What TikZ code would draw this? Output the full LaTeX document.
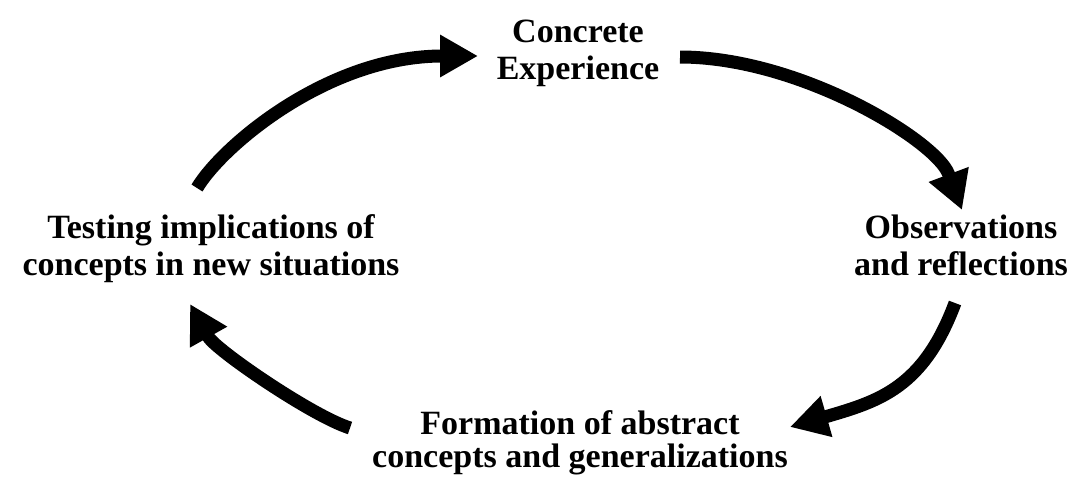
\documentclass[tikz,border=0pt]{standalone}
\usepackage{fontspec}
\setmainfont{Liberation Serif}
\usetikzlibrary{arrows.meta}
\begin{document}
\begin{tikzpicture}[x=1pt,y=-1pt,
  stage/.style={font=\bfseries\fontsize{34}{37}\selectfont, align=center, inner sep=0pt, anchor=base},
  cyclearrow/.style={line width=13pt, -{Triangle[length=38pt,width=40pt]}}]
\useasboundingbox (0,0) rectangle (1075,483);

% the four stages of the learning cycle (anchored at the baseline of the last line)
\node[stage] (ce) at (578,79) {Concrete\\Experience};
\node[stage] (or) at (961,275) {Observations\\and reflections};
\node[stage, font=\bfseries\fontsize{34}{33}\selectfont] (fa) at (580,467) {Formation of abstract\\concepts and generalizations};
\node[stage] (ti) at (211,275) {Testing implications of\\concepts in new situations};

% arrow start points, points where each head begins, and tips
\coordinate (ti-out) at (197,188);
\coordinate (ce-in)  at (478,56);
\coordinate (ce-out) at (680,57);
\coordinate (or-base) at (948.5,174);
\coordinate (or-in)  at (962,210);
\coordinate (or-out) at (955,303);
\coordinate (fa-base) at (826.5,416.5);
\coordinate (fa-in)  at (790,427);
\coordinate (fa-out) at (350,428);
\coordinate (ti-base) at (208.5,337);
\coordinate (ti-in)  at (190,304);

% curved arrows linking the stages
\draw[cyclearrow] (ti-out) .. controls (222,146) and (328,56) .. (ce-in);
\draw[cyclearrow] (ce-out) .. controls (800,57) and (936.3,141.1) .. (or-base) -- (or-in);
\draw[cyclearrow] (or-out) .. controls (923.5,387.6) and (879.3,401.1) .. (fa-base) -- (fa-in);
\draw[cyclearrow] (fa-out) .. controls (312,416) and (215.9,350) .. (ti-base) -- (ti-in);
\end{tikzpicture}
\end{document}
